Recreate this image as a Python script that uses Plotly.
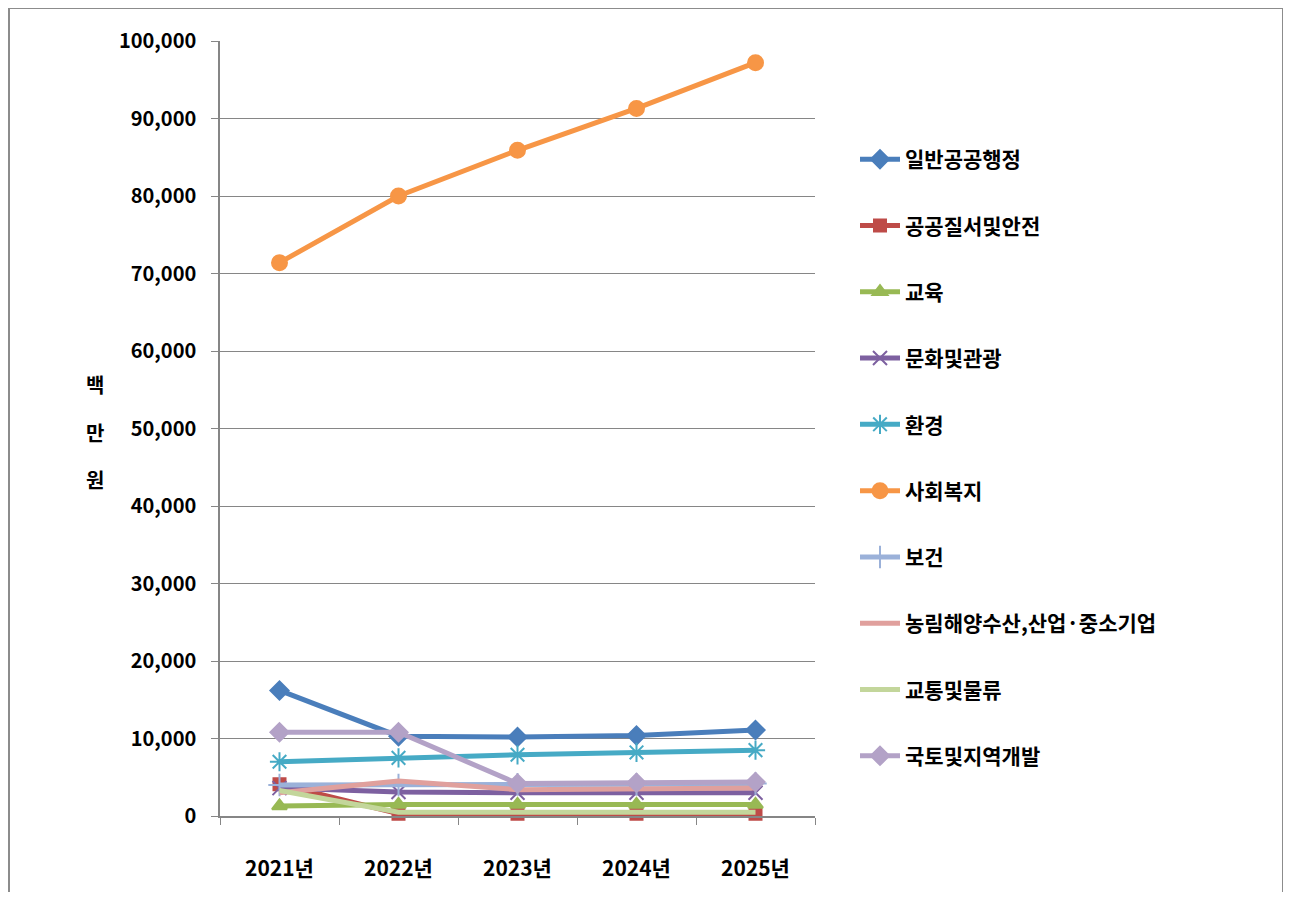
import plotly.graph_objects as go

years = ["2021년", "2022년", "2023년", "2024년", "2025년"]

s_general = [16200, 10300, 10200, 10400, 11100]
s_order = [4100, 300, 300, 300, 300]
s_edu = [1300, 1500, 1500, 1500, 1500]
s_culture = [3600, 3100, 3000, 3000, 3000]
s_env = [7000, 7500, 7900, 8200, 8500]
s_welfare = [71400, 80000, 85900, 91300, 97200]
s_health = [4000, 4000, 4100, 4100, 4200]
s_agri = [3000, 4500, 3400, 3500, 3600]
s_trans = [3300, 500, 500, 500, 500]
s_land = [10800, 10800, 4200, 4300, 4400]

names = ["일반공공행정", "공공질서및안전", "교육", "문화및관광", "환경",
         "사회복지", "보건", "농림해양수산,산업·중소기업", "교통및물류", "국토및지역개발"]
series = [s_general, s_order, s_edu, s_culture, s_env, s_welfare, s_health, s_agri, s_trans, s_land]
line_colors = ["#4A7EBB", "#BE4B48", "#98B954", "#7D60A0", "#46AAC5",
               "#F79646", "#9BB1D9", "#E0A09D", "#C3D69B", "#B3A2C7"]
symbols = ["diamond", "square", "triangle-up", "x-thin-open", "asterisk-open",
           "circle", "cross-thin-open", None, None, "diamond"]
sizes = [14, 12, 13, 14, 16, 15, 16, 0, 0, 14]

# page body has an 8px margin; figure coordinates = page coordinates - 8
OFF = 8
PL, PR, PT, PB = 220 - OFF, 815 - OFF, 41 - OFF, 816 - OFF
W, H = 1277, 884
PW, PH = PR - PL, PB - PT


def px_x(p):
    return (p - OFF - PL) / PW


def px_y(p):
    return (PB - (p - OFF)) / PH


fig = go.Figure()
for i, (nm, vals) in enumerate(zip(names, series)):
    sym = symbols[i]
    mode = "lines+markers" if sym else "lines"
    marker = dict(symbol=sym, size=sizes[i], color=line_colors[i],
                  line=dict(color=line_colors[i], width=2)) if sym else None
    fig.add_trace(go.Scatter(
        x=years, y=vals, name=nm, mode=mode,
        line=dict(color=line_colors[i], width=5),
        marker=marker, cliponaxis=False, legendgroup=str(i)))

font_family = "Noto Sans CJK KR, Noto Sans, sans-serif"

fig.update_layout(
    width=W, height=H,
    margin=dict(l=PL, r=W - PR, t=PT, b=H - PB, autoexpand=False),
    paper_bgcolor="white", plot_bgcolor="white",
    font=dict(family=font_family, color="#000000"),
    showlegend=True,
    legend=dict(x=px_x(855), y=px_y(139), xanchor="left", yanchor="top",
                font=dict(size=21, family=font_family, color="#000000", weight="bold"),
                tracegroupgap=36, itemwidth=40, bgcolor="rgba(0,0,0,0)"),
    xaxis=dict(type="category", range=[-0.5, 4.5], showline=True,
               linecolor="#868686", linewidth=1.5, ticks="outside",
               tickson="boundaries", ticklen=7, tickcolor="#868686",
               showgrid=False, automargin=False,
               tickfont=dict(size=21, family=font_family, weight="bold"),
               ticklabelstandoff=33),
    yaxis=dict(range=[0, 100000], tickvals=list(range(0, 100001, 10000)),
               tickformat=",", showline=True, linecolor="#868686", linewidth=1.5,
               ticks="outside", ticklen=7, tickcolor="#868686",
               showgrid=True, gridcolor="#868686", gridwidth=1.2,
               zeroline=False, automargin=False,
               tickfont=dict(size=20, family=font_family, weight="bold"),
               ticklabelstandoff=11),
)

for ch, ypix in zip(["백", "만", "원"], [384, 432, 480]):
    fig.add_annotation(text=ch, xref="paper", yref="paper",
                       x=px_x(95), y=px_y(ypix),
                       showarrow=False, xanchor="center", yanchor="middle",
                       font=dict(size=20, family=font_family, color="#000000", weight="bold"))

fig.add_shape(type="rect", xref="paper", yref="paper",
              x0=px_x(9), x1=px_x(1283),
              y0=px_y(920), y1=px_y(8),
              line=dict(color="#8C8C8C", width=2), fillcolor="rgba(0,0,0,0)",
              layer="below")

fig.write_html("out.html")
